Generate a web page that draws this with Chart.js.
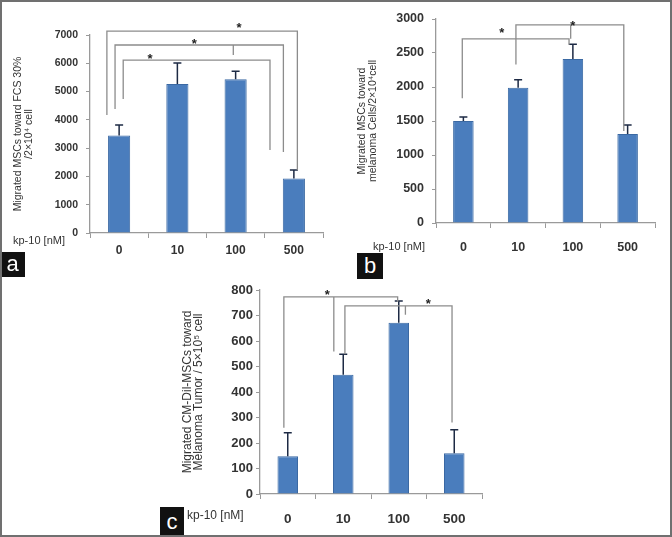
<!DOCTYPE html>
<html>
<head>
<meta charset="utf-8">
<script src="https://cdn.jsdelivr.net/npm/chart.js@4"></script>
<style>
    html, body { margin: 0; padding: 0; background: #fff; }
    #frame { position: relative; width: 672px; height: 537px; box-sizing: border-box; border: 2px solid #707070; overflow: hidden; }
    .panel { position: absolute; }
    .tag { position: absolute; background: #111; color: #fff; font: 22px "Liberation Sans", Arial, sans-serif; text-align: center; }
    .kp { position: absolute; color: #333; font: 11px "Liberation Sans", Arial, sans-serif; white-space: nowrap; }
</style>
</head>
<body>
<div id="frame">
    <div class="panel" style="left:-2px;top:-2px;width:330px;height:255px"><canvas id="chartA"></canvas></div>
    <div class="panel" style="left:328px;top:-2px;width:342px;height:255px"><canvas id="chartB"></canvas></div>
    <div class="panel" style="left:158px;top:268px;width:350px;height:267px"><canvas id="chartC"></canvas></div>
    <div class="kp" style="left:11px;top:232px">kp-10 [nM]</div>
    <div class="kp" style="left:371px;top:238px">kp-10 [nM]</div>
    <div class="kp" style="left:185px;top:506px;font-size:12px">kp-10 [nM]</div>
    <div class="tag" style="left:-2px;top:250px;width:25px;height:25px;line-height:23px">a</div>
    <div class="tag" style="left:355px;top:251px;width:26px;height:26px;line-height:25px">b</div>
    <div class="tag" style="left:158px;top:505px;width:24px;height:30px;line-height:30px">c</div>
</div>
<script>
const categories = ['0', '10', '100', '500'];

// panel a: toward FCS 30%
const valuesA = [3450, 5270, 5440, 1930];
const errorsA = [370, 740, 280, 300];
const ticksA = [0, 1000, 2000, 3000, 4000, 5000, 6000, 7000];
// panel b: toward melanoma cells
const valuesB = [1500, 1990, 2410, 1310];
const errorsB = [60, 115, 220, 130];
const ticksB = [0, 500, 1000, 1500, 2000, 2500, 3000];
// panel c: toward melanoma tumor
const valuesC = [148, 468, 672, 160];
const errorsC = [92, 80, 85, 92];
const ticksC = [0, 100, 200, 300, 400, 500, 600, 700, 800];

// significance brackets, x in category units, y in data units
const bracketsA = [
    { x1: -0.21, x2: 3.06, y: 7140, y1: 4170, y2: 2230 },
    { x1: -0.07, x2: 2.82, y: 6646, y1: 4383, y2: 2863 },
    { x1: 0.07, x2: 2.59, y: 6115, y1: 4737, y2: 2934 }
];
const stemsA = [{ x: 1.96, top: 6646, bottom: 6292 }];
const starsA = [{ x: 2.06, y: 7330 }, { x: 1.29, y: 6780 }, { x: 0.53, y: 6250 }];

const bracketsB = [
    { x1: -0.02, x2: 1.93, y: 2709, y1: 1835, y2: 2620 },
    { x1: 0.96, x2: 2.93, y: 2913, y1: 2330, y2: 1354 }
];
const stemsB = [{ x: 1.96, top: 2913, bottom: 2709 }];
const starsB = [{ x: 0.7, y: 2830 }, { x: 2.0, y: 2930 }];

const bracketsC = [
    { x1: -0.07, x2: 1.98, y: 773, y1: 260, y2: 753 },
    { x1: 1.03, x2: 2.96, y: 738, y1: 548, y2: 280 }
];
const stemsC = [{ x: 0.83, top: 773, bottom: 559 }, { x: 2.12, top: 738, bottom: 703 }];
const starsC = [{ x: 0.71, y: 790 }, { x: 2.53, y: 755 }];

const barBlue = '#4a7dbd';
const errColor = '#1d2a44';
const bracketGray = '#8c8c8c';

const extrasPlugin = {
    id: 'extras',
    afterDatasetsDraw(chart, args, opts) {
        const ctx = chart.ctx;
        const xs = chart.scales.x;
        const ys = chart.scales.y;
        const unit = xs.getPixelForValue(1) - xs.getPixelForValue(0);
        const px = v => xs.getPixelForValue(0) + v * unit;
        ctx.save();
        // error bars, upper half only
        ctx.strokeStyle = errColor;
        ctx.lineWidth = 1.5;
        opts.values.forEach((v, i) => {
            const x = xs.getPixelForValue(i);
            const y0 = ys.getPixelForValue(v);
            const y1 = ys.getPixelForValue(v + opts.errors[i]);
            ctx.beginPath();
            ctx.moveTo(x, y0);
            ctx.lineTo(x, y1);
            ctx.moveTo(x - 4, y1);
            ctx.lineTo(x + 4, y1);
            ctx.stroke();
        });
        // brackets
        ctx.strokeStyle = bracketGray;
        ctx.lineWidth = 1.3;
        opts.brackets.forEach(b => {
            ctx.beginPath();
            ctx.moveTo(px(b.x1), ys.getPixelForValue(b.y1));
            ctx.lineTo(px(b.x1), ys.getPixelForValue(b.y));
            ctx.lineTo(px(b.x2), ys.getPixelForValue(b.y));
            ctx.lineTo(px(b.x2), ys.getPixelForValue(b.y2));
            ctx.stroke();
        });
        opts.stems.forEach(s => {
            ctx.beginPath();
            ctx.moveTo(px(s.x), ys.getPixelForValue(s.top));
            ctx.lineTo(px(s.x), ys.getPixelForValue(s.bottom));
            ctx.stroke();
        });
        ctx.fillStyle = '#222';
        ctx.font = 'bold 13px "Liberation Sans", Arial, sans-serif';
        ctx.textAlign = 'center';
        ctx.textBaseline = 'middle';
        opts.stars.forEach(s => {
            ctx.fillText('*', px(s.x), ys.getPixelForValue(s.y) + 3);
        });
        ctx.restore();
    }
};

function makeChart(id, p) {
    const ctx = document.getElementById(id).getContext('2d');
    return new Chart(ctx, {
        type: 'bar',
        data: {
            labels: categories,
            datasets: [{
                data: p.values,
                backgroundColor: barBlue,
                borderColor: '#3b69a3',
                borderWidth: 1,
                barPercentage: p.barPct,
                categoryPercentage: 1
            }]
        },
        plugins: [extrasPlugin],
        options: {
            responsive: true,
            maintainAspectRatio: false,
            animation: false,
            events: [],
            layout: { padding: p.padding },
            plugins: {
                legend: { display: false },
                tooltip: { enabled: false },
                extras: {
                    values: p.values, errors: p.errors,
                    brackets: p.brackets, stems: p.stems, stars: p.stars
                }
            },
            scales: {
                x: {
                    offset: true,
                    grid: { display: true, offset: true, drawOnChartArea: false, tickLength: 5, color: '#9a9a9a' },
                    border: { color: '#9a9a9a', width: 1.3 },
                    ticks: {
                        color: '#333', padding: p.xPad, maxRotation: 0,
                        font: { family: 'Liberation Sans', size: p.xFont, weight: 'bold' }
                    },
                    afterFit: s => { s.height = p.xHeight; }
                },
                y: {
                    min: 0,
                    max: p.ticks[p.ticks.length - 1],
                    afterBuildTicks: axis => { axis.ticks = p.ticks.map(v => ({ value: v })); },
                    grid: { display: true, drawOnChartArea: false, tickLength: 4, color: '#9a9a9a' },
                    border: { color: '#9a9a9a', width: 1.3 },
                    ticks: {
                        color: '#333', padding: p.yPad,
                        font: { family: 'Liberation Sans', size: p.yFont, weight: 'bold' },
                        callback: v => String(v)
                    },
                    title: {
                        display: true,
                        text: p.title,
                        color: '#333',
                        padding: { top: p.titlePad, bottom: 0 },
                        font: { family: 'Liberation Sans', size: p.titleFont, lineHeight: p.titleLH }
                    },
                    afterFit: s => { s.width = p.yWidth; }
                }
            }
        }
    });
}

makeChart('chartA', {
    values: valuesA, errors: errorsA, ticks: ticksA,
    brackets: bracketsA, stems: stemsA, stars: starsA,
    title: ['Migrated MSCs toward FCS 30%', '/2×10⁴ cell'],
    padding: { left: 0, right: 7, top: 35, bottom: 0 },
    yWidth: 90, xHeight: 22, barPct: 0.38,
    xFont: 12, yFont: 10.5, yPad: 8, xPad: 5,
    titleFont: 10.5, titleLH: 1.0, titlePad: 13
});

makeChart('chartB', {
    values: valuesB, errors: errorsB, ticks: ticksB,
    brackets: bracketsB, stems: stemsB, stars: starsB,
    title: ['Migrated MSCs toward', 'melanoma Cells/2×10⁴cell'],
    padding: { left: 0, right: 17, top: 19, bottom: 0 },
    yWidth: 106, xHeight: 32, barPct: 0.375,
    xFont: 12.5, yFont: 12.5, yPad: 8, xPad: 12,
    titleFont: 10.5, titleLH: 1.05, titlePad: 27
});

makeChart('chartC', {
    values: valuesC, errors: errorsC, ticks: ticksC,
    brackets: bracketsC, stems: stemsC, stars: starsC,
    title: ['Migrated CM-Dil-MSCs toward', 'Melanoma Tumor / 5×10⁵ cell'],
    padding: { left: 0, right: 28, top: 20, bottom: 0 },
    yWidth: 100, xHeight: 43, barPct: 0.37,
    xFont: 13.5, yFont: 13, yPad: 3, xPad: 12,
    titleFont: 12, titleLH: 0.95, titlePad: 22
});
</script>
</body>
</html>
